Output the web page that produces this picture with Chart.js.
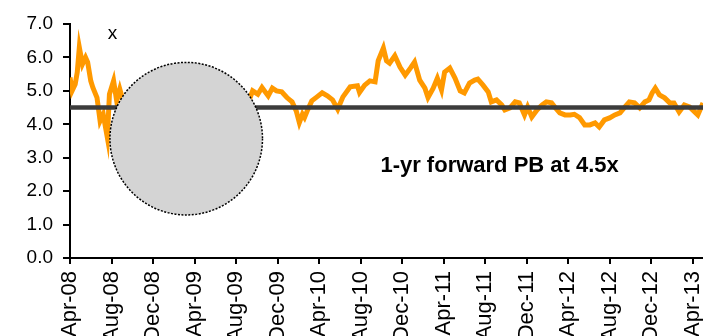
<!DOCTYPE html>
<html>
<head>
<meta charset="utf-8">
<script src="https://cdn.jsdelivr.net/npm/chart.js@4/dist/chart.umd.min.js"></script>
<style>
  html, body { margin: 0; padding: 0; background: #fff; }
  #chart { display: block; }
</style>
</head>
<body>
<canvas id="chart" width="703" height="336"></canvas>
<script>
( function () {
    'use strict';

    // months since Apr-08
    var months = [
        0.0, 0.2, 0.5, 0.7, 0.9, 1.2, 1.5, 1.7, 2.0, 2.2, 2.6, 2.9, 3.2, 3.6, 3.8, 4.2, 4.5, 4.8,
        5.3, 5.8, 6.3, 6.8, 7.2, 7.7, 8.2, 8.7, 9.2, 9.7, 10.1, 10.6, 11.1, 11.6, 12.1, 12.5,
        13.0, 13.5, 14.0, 14.5, 14.9, 15.4, 15.9, 16.4, 16.9, 17.3,
        17.6, 18.1, 18.5, 19.1, 19.5, 19.9, 20.4, 20.9, 21.4, 21.8, 22.1, 22.4, 22.6, 22.9,
        23.3, 23.8, 24.3, 24.8, 25.3, 25.8, 26.3, 27.0, 27.7, 27.9, 28.4, 28.9, 29.4, 29.7,
        30.2, 30.5, 30.8, 31.3, 31.8, 32.3, 32.8, 33.2, 33.7, 34.2, 34.5, 35.0, 35.4, 35.8,
        36.1, 36.6, 37.1, 37.6, 38.0, 38.5, 39.0, 39.3, 39.8, 40.3, 40.6, 41.1, 41.6, 41.9,
        42.4, 42.9, 43.3, 43.8, 44.1, 44.5, 45.0, 45.5, 45.9, 46.4, 46.7, 47.2, 47.7, 48.2,
        48.6, 49.1, 49.6, 50.1, 50.6, 51.0, 51.5, 52.0, 52.5, 53.0, 53.4, 53.9, 54.4, 54.9,
        55.4, 55.8, 56.1, 56.4, 56.8, 57.3, 57.8, 58.2, 58.7, 59.2, 59.7, 60.2, 60.5, 61.0
    ];

    var pbValues = [
        5.40, 5.00, 5.20, 5.56, 6.30, 5.80, 6.00, 5.86, 5.30, 5.10, 4.80, 4.10, 4.30, 3.60, 4.90, 5.30, 4.70, 5.05,
        4.50, 4.30, 4.00, 3.80, 3.40, 3.20, 3.00, 2.90, 2.80, 2.90, 2.70, 2.80, 3.00, 3.10, 3.30, 3.50,
        3.70, 3.90, 4.00, 4.20, 4.30, 4.40, 4.50, 4.60, 4.70, 4.75,
        5.00, 4.90, 5.10, 4.85, 5.08, 5.00, 4.97, 4.80, 4.67, 4.40, 4.05, 4.30, 4.20, 4.43,
        4.70, 4.82, 4.94, 4.85, 4.73, 4.45, 4.82, 5.12, 5.15, 4.95, 5.17, 5.30, 5.27, 5.90,
        6.28, 5.90, 5.83, 6.05, 5.71, 5.47, 5.68, 5.86, 5.32, 5.08, 4.80, 5.08, 5.38, 5.03,
        5.56, 5.68, 5.38, 5.00, 4.94, 5.23, 5.32, 5.35, 5.17, 4.97, 4.67, 4.73, 4.58, 4.43,
        4.49, 4.67, 4.64, 4.28, 4.52, 4.22, 4.43, 4.58, 4.67, 4.64, 4.52, 4.34, 4.28, 4.28,
        4.30, 4.20, 3.98, 3.98, 4.04, 3.92, 4.13, 4.19, 4.28, 4.34, 4.49, 4.67, 4.64, 4.49,
        4.67, 4.73, 4.94, 5.08, 4.88, 4.79, 4.64, 4.64, 4.37, 4.58, 4.52, 4.37, 4.28, 4.64
    ];

    var averagePB = 4.5;

    var tickMonths = [ 0, 4, 8, 12, 16, 20, 24, 28, 32, 36, 40, 44, 48, 52, 56, 60 ];
    var tickLabels = [
        'Apr-08', 'Aug-08', 'Dec-08', 'Apr-09', 'Aug-09', 'Dec-09', 'Apr-10', 'Aug-10',
        'Dec-10', 'Apr-11', 'Aug-11', 'Dec-11', 'Apr-12', 'Aug-12', 'Dec-12', 'Apr-13'
    ];

    var fontFamily = '"Liberation Sans", Arial, sans-serif';

    var points = months.map( function ( m, i ) {
        return { x: m, y: pbValues[ i ] };
    } );

    var avgLine = [
        { x: months[ 0 ], y: averagePB },
        { x: months[ months.length - 1 ], y: averagePB }
    ];

    /* ── overlay: grey disc + labels ─────────────────────────────────────── */
    var overlay = {
        id: 'overlay',
        afterDatasetsDraw: function ( chart ) {
            var ctx = chart.ctx;
            var xs = chart.scales.x;
            var ys = chart.scales.y;

            var cx = xs.getPixelForValue( 11.2 );
            var cy = ys.getPixelForValue( 3.57 );
            var r = xs.getPixelForValue( 11.2 + 7.35 ) - cx;

            ctx.save();
            ctx.beginPath();
            ctx.arc( cx, cy, r, 0, Math.PI * 2 );
            ctx.fillStyle = '#d4d4d4';
            ctx.fill();
            ctx.setLineDash( [ 2, 1.5 ] );
            ctx.lineWidth = 1.5;
            ctx.strokeStyle = '#000';
            ctx.stroke();
            ctx.setLineDash( [] );

            ctx.fillStyle = '#000';
            ctx.textAlign = 'center';
            ctx.textBaseline = 'middle';
            ctx.font = '19px ' + fontFamily;
            ctx.fillText( 'x', xs.getPixelForValue( 4.1 ), ys.getPixelForValue( 6.72 ) );

            ctx.font = 'bold 22px ' + fontFamily;
            ctx.fillText( '1-yr forward PB at 4.5x', xs.getPixelForValue( 41.4 ), ys.getPixelForValue( 2.75 ) );
            ctx.restore();
        }
    };

    new Chart( document.getElementById( 'chart' ), {
        type: 'line',
        data: {
            datasets: [ {
                label:       'Average',
                data:        avgLine,
                borderColor: '#3c3c3c',
                borderWidth: 4.5,
                pointRadius: 0,
                fill:        false,
            }, {
                label:       '1-yr forward PB',
                data:        points,
                borderColor: '#ff9900',
                borderWidth: 5,
                pointRadius: 0,
                tension:     0,
                fill:        false,
            } ],
        },
        options: {
            responsive: false,
            animation:  false,
            layout: { padding: { top: 24, right: 0, left: 0, bottom: 0 } },
            plugins: {
                legend:  { display: false },
                tooltip: { enabled: false },
            },
            scales: {
                x: {
                    type: 'linear',
                    min:  0,
                    max:  61,
                    afterBuildTicks: function ( scale ) {
                        scale.ticks = tickMonths.map( function ( v ) { return { value: v }; } );
                    },
                    afterFit: function ( scale ) {
                        scale.height = 78;
                        scale.paddingLeft = 0;
                        scale.paddingRight = 0;
                    },
                    border: { color: '#000', width: 2 },
                    grid: {
                        drawOnChartArea: false,
                        drawTicks:       true,
                        tickLength:      6,
                        color:           '#000',
                        lineWidth:       2,
                    },
                    ticks: {
                        autoSkip:    false,
                        minRotation: 90,
                        maxRotation: 90,
                        padding:     7,
                        color:       '#000',
                        font:        { family: fontFamily, size: 22 },
                        callback: function ( v, i ) { return tickLabels[ i ]; },
                    },
                },
                y: {
                    min: 0,
                    max: 7,
                    afterFit: function ( scale ) {
                        scale.width = 70;
                        scale.paddingTop = 0;
                        scale.paddingBottom = 0;
                    },
                    border: { color: '#000', width: 2 },
                    grid: {
                        drawOnChartArea: false,
                        drawTicks:       true,
                        tickLength:      7,
                        color:           '#000',
                        lineWidth:       2,
                    },
                    ticks: {
                        stepSize: 1,
                        padding:  10,
                        color:    '#000',
                        font:     { family: fontFamily, size: 19 },
                        callback: function ( v ) { return v.toFixed( 1 ); },
                    },
                },
            },
        },
        plugins: [ overlay ],
    } );

} )();
</script>
</body>
</html>
